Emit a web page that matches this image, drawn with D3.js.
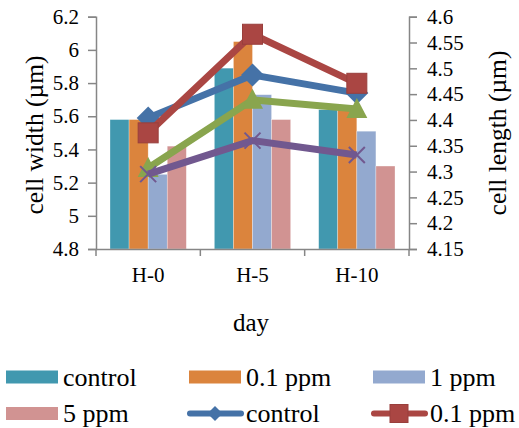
<!DOCTYPE html>
<html>
<head>
<meta charset="utf-8">
<script src="https://cdn.jsdelivr.net/npm/d3@7"></script>
<style>
  body { margin: 0; background: #fff; }
  text { font-family: "Liberation Serif", "Times New Roman", serif; fill: #000; }
</style>
</head>
<body>
<div id="chart"></div>
<script>
// categories and series
var days = ["H-0", "H-5", "H-10"];
var barSeries = ["control", "0.1 ppm", "1 ppm", "5 ppm"];
var barColors = ["#4198af", "#db843d", "#93a9cf", "#d19392"];
// cell width (left axis)
var widthControl = [5.58, 5.89, 5.64];
var width01 = [5.58, 6.05, 5.65];
var width1 = [5.25, 5.73, 5.51];
var width5 = [5.42, 5.58, 5.30];
// cell length (right axis)
var lineSeries = ["control", "0.1 ppm", "1 ppm", "5 ppm"];
var lineColors = ["#4572a7", "#aa4643", "#89a54e", "#71588f"];
var lineMarkers = ["diamond", "square", "triangle", "x"];
var lengthControl = [4.404, 4.487, 4.452];
var length01 = [4.375, 4.566, 4.471];
var length1 = [4.307, 4.439, 4.421];
var length5 = [4.295, 4.360, 4.332];
var leftTicks = [4.8, 5, 5.2, 5.4, 5.6, 5.8, 6, 6.2];
var rightTicks = [4.15, 4.2, 4.25, 4.3, 4.35, 4.4, 4.45, 4.5, 4.55, 4.6];

var barData = [widthControl, width01, width1, width5];
var lineData = [lengthControl, length01, length1, length5];

var W = 519, H = 428;
var svg = d3.select("#chart").append("svg")
    .attr("width", W).attr("height", H);

var x0 = d3.scaleBand().domain(days).range([96, 409]);
var x1 = d3.scaleBand().domain(barSeries).range([14, x0.bandwidth() - 14]);
var yL = d3.scaleLinear().domain([4.8, 6.2]).range([249, 16.7]);
var yR = d3.scaleLinear().domain([4.15, 4.6]).range([249, 16.7]);

var axisColor = "#868686";

// bars
barSeries.forEach(function (s, i) {
    svg.append("g").selectAll("rect")
        .data(barData[i])
        .enter().append("rect")
        .attr("x", function (d, j) { return x0(days[j]) + x1(s); })
        .attr("width", x1.bandwidth())
        .attr("y", function (d) { return yL(d); })
        .attr("height", function (d) { return yL(4.8) - yL(d); })
        .attr("fill", barColors[i])
        .attr("stroke", "#fff")
        .attr("stroke-opacity", 0.5)
        .attr("stroke-width", 0.6);
});

// axes
var fmt = function (d) { return String(+d.toFixed(2)); };
var leftAxis = svg.append("g")
    .attr("transform", "translate(96,0)")
    .call(d3.axisLeft(yL).tickValues(leftTicks).tickSize(8).tickPadding(9).tickFormat(fmt));
var rightAxis = svg.append("g")
    .attr("transform", "translate(409,0)")
    .call(d3.axisRight(yR).tickValues(rightTicks).tickSize(8).tickPadding(10).tickFormat(fmt));
var bottomAxis = svg.append("g")
    .attr("transform", "translate(0,249)")
    .call(d3.axisBottom(x0).tickSize(0).tickPadding(18));
svg.append("g").attr("transform", "translate(0,249)")
    .selectAll("line")
    .data([96, 409].concat(days.slice(1).map(function (d) { return x0(d); })))
    .enter().append("line")
    .attr("x1", function (d) { return d; }).attr("x2", function (d) { return d; })
    .attr("y1", 0).attr("y2", 7)
    .attr("stroke", axisColor).attr("stroke-width", 1.5);

[leftAxis, rightAxis, bottomAxis].forEach(function (a) {
    a.select(".domain").attr("stroke", axisColor).attr("stroke-width", 1.5);
    a.selectAll(".tick line").attr("stroke", axisColor).attr("stroke-width", 1.5);
    a.selectAll("text").style("font-family", "Liberation Serif").attr("font-size", 21).attr("fill", "#000");
});

// lines
var cx = function (j) { return x0(days[j]) + x0.bandwidth() / 2; };
function marker(g, type, color, px, py, s) {
    var h = s / 2;
    if (type === "diamond") {
        g.append("path")
            .attr("d", "M" + px + "," + (py - h) + "L" + (px + h) + "," + py +
                "L" + px + "," + (py + h) + "L" + (px - h) + "," + py + "Z")
            .attr("fill", color);
    } else if (type === "square") {
        g.append("rect").attr("x", px - h).attr("y", py - h)
            .attr("width", s).attr("height", s).attr("fill", color)
            .attr("stroke", d3.color(color).darker(0.3)).attr("stroke-width", 1);
    } else if (type === "triangle") {
        g.append("path")
            .attr("d", "M" + px + "," + (py - h * 1.05) + "L" + (px + h) + "," + (py + h * 0.85) +
                "L" + (px - h) + "," + (py + h * 0.85) + "Z")
            .attr("fill", color);
    } else {
        g.append("path")
            .attr("d", "M" + (px - h) + "," + (py - h) + "L" + (px + h) + "," + (py + h) +
                "M" + (px - h) + "," + (py + h) + "L" + (px + h) + "," + (py - h))
            .attr("stroke", color).attr("stroke-width", 2).attr("fill", "none");
    }
}
var markerSize = { diamond: 23, square: 20, triangle: 21, x: 16 };
// series order: later series drawn on top
lineSeries.forEach(function (s, i) {
    var g = svg.append("g");
    var line = d3.line().x(function (d, j) { return cx(j); }).y(function (d) { return yR(d); });
    g.append("path").datum(lineData[i]).attr("d", line)
        .attr("fill", "none").attr("stroke", lineColors[i]).attr("stroke-width", 7)
        .attr("stroke-linejoin", "round");
    lineData[i].forEach(function (d, j) {
        marker(g, lineMarkers[i], lineColors[i], cx(j), yR(d), markerSize[lineMarkers[i]]);
    });
});

// axis titles
svg.append("text").attr("transform", "translate(34,135) rotate(-90)")
    .attr("text-anchor", "middle").attr("dominant-baseline", "central")
    .attr("font-size", 25.5).text("cell width (µm)");
svg.append("text").attr("transform", "translate(497,133) rotate(-90)")
    .attr("text-anchor", "middle").attr("dominant-baseline", "central")
    .attr("font-size", 25.5).text("cell length (µm)");
svg.append("text").attr("x", 251).attr("y", 331)
    .attr("text-anchor", "middle").attr("font-size", 25).text("day");

// legend (six entries visible)
var legendItems = [
    { label: barSeries[0], kind: "bar", color: barColors[0] },
    { label: barSeries[1], kind: "bar", color: barColors[1] },
    { label: barSeries[2], kind: "bar", color: barColors[2] },
    { label: barSeries[3], kind: "bar", color: barColors[3] },
    { label: lineSeries[0], kind: "line", color: lineColors[0], marker: lineMarkers[0] },
    { label: lineSeries[1], kind: "line", color: lineColors[1], marker: lineMarkers[1] }
];
var legX = [6, 189, 373], legY = [377, 413.5];
legendItems.forEach(function (d, k) {
    var g = svg.append("g");
    var lx = legX[k % 3], ly = legY[Math.floor(k / 3)];
    if (d.kind === "bar") {
        g.append("rect").attr("x", lx).attr("y", ly - 6.5).attr("width", 52).attr("height", 13)
            .attr("fill", d.color);
    } else {
        g.append("line").attr("x1", lx + 1).attr("x2", lx + 52).attr("y1", ly).attr("y2", ly)
            .attr("stroke", d.color).attr("stroke-width", 6).attr("stroke-linecap", "round");
        marker(g, d.marker, d.color, lx + 26, ly, d.marker === "diamond" ? 15 : 18);
    }
    g.append("text").attr("x", lx + 57).attr("y", ly + 8.5).attr("font-size", 26).text(d.label);
});
</script>
</body>
</html>
